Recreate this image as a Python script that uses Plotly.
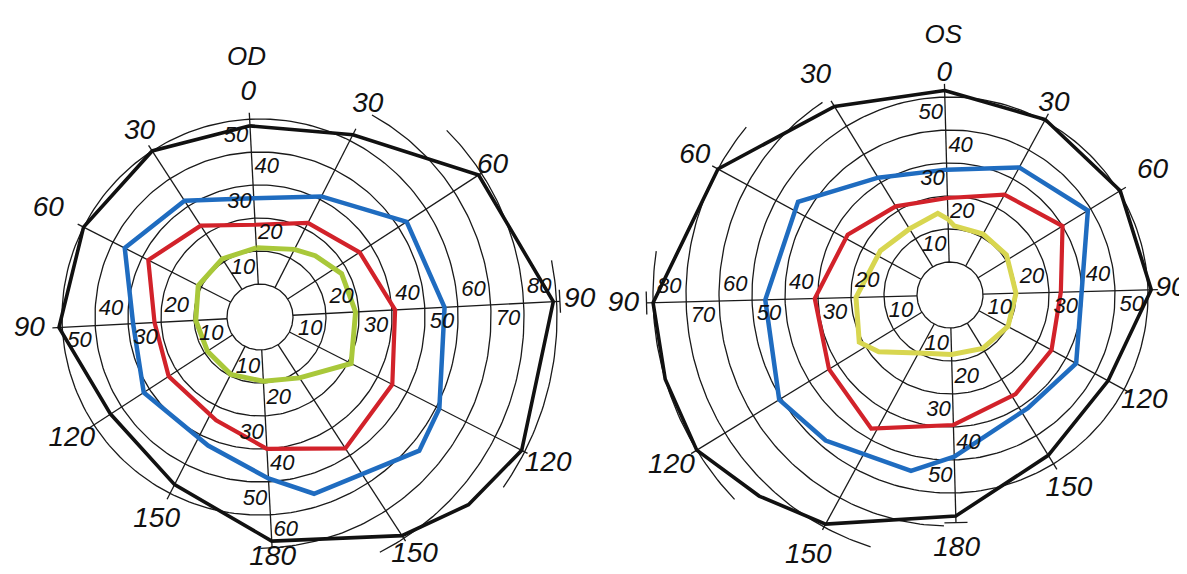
import numpy as np
import plotly.graph_objects as go

# ---------------- data (degrees of visual field) ----------------
MERIDIANS = [0, 30, 60, 90, 120, 150, 180, 210, 240, 270, 300, 330]
MERIDIAN_TEXT = ["0", "30", "60", "90", "120", "150", "180", "150", "120", "90", "60", "30"]
RINGS = [10, 20, 30, 40, 50, 60]
OUTER_RINGS = [70, 80, 90]

# ring labels written along the four main meridians
OD_UP_LABELS = [10, 20, 30, 40, 50]
OD_RIGHT_LABELS = [10, 20, 30, 40, 50, 60, 70, 80]
OD_DOWN_LABELS = [10, 20, 30, 40, 50, 60]
OD_LEFT_LABELS = [10, 20, 30, 40, 50]
OS_UP_LABELS = [10, 20, 30, 40, 50]
OS_RIGHT_LABELS = [10, 20, 30, 40, 50]
OS_DOWN_LABELS = [10, 20, 30, 40, 50]
OS_LEFT_LABELS = [10, 20, 30, 40, 50, 60, 70, 80]

# OD isopters (meridian angle clockwise from top, eccentricity in degrees)
OD_BLACK_ANG = [0, 30, 60, 90, 120, 135, 150, 180, 210, 240, 270, 300, 330]
OD_BLACK = [58, 62, 79, 89, 89, 85, 79, 68, 57, 54, 61, 60, 60]
OD_BLUE_ANG = [0, 30, 60, 90, 120, 133, 166, 180, 205, 240, 270, 300, 330]
OD_BLUE = [36, 41, 53, 56, 61, 63, 56, 49, 42, 42, 38.5, 46, 42]
OD_RED_ANG = [0, 30, 60, 90, 120, 150, 180, 206, 240, 270, 300, 330]
OD_RED = [28, 32, 36, 41, 45, 47.5, 40, 34, 33, 32, 38, 33]
OD_GREEN_ANG = [0, 30, 45, 65, 90, 120, 150, 180, 210, 240, 270, 300, 330]
OD_GREEN = [21, 23, 25, 28, 29, 31, 22, 19.5, 19.5, 19, 19.5, 21, 21]

# OS isopters
OS_BLACK_ANG = [0, 30, 60, 90, 120, 150, 180, 210, 225, 240, 255, 270, 300, 330]
OS_BLACK = [62, 60.5, 60.5, 61, 54.5, 57, 67, 79, 84, 90, 90, 90, 80, 67]
OS_BLUE_ANG = [0, 30, 60, 90, 120, 147, 180, 194, 222, 240, 270, 303, 330]
OS_BLUE = [38, 44, 49, 40, 43.5, 41.6, 49, 54.6, 58, 60.7, 56, 54, 41.7]
OS_RED_ANG = [0, 30, 60, 90, 120, 148, 180, 212, 240, 270, 302, 330]
OS_RED = [29.4, 34.6, 40, 33.6, 35, 36, 39.4, 47, 43, 41, 36, 31.5]
OS_YELLOW_ANG = [0, 5, 30, 56, 90, 120, 150, 180, 210, 233, 244, 270, 304, 330, 353]
OS_YELLOW = [23, 21, 21, 21, 20, 20, 19, 18, 20, 27.6, 31, 28.5, 25, 23.5, 25]

# ---------------- style / layout ----------------
FONT = "Liberation Sans, Arial, sans-serif"
GRID_COLOR = "#1a1a1a"
COL_BLACK = "#111111"
COL_BLUE = "#1f6cc0"
COL_RED = "#d2222a"
COL_GREEN_OD = "#a9c83a"
COL_YELLOW_OS = "#d8d650"
# radius (in degrees) at which the meridian names are written
OD_LABEL_R = [68, 72, 84, 97, 98, 86, 73, 69, 68, 70, 72, 67]
OS_LABEL_R = [67, 66, 72, 67, 67, 69, 77, 90, 99, 99, 88, 78]


def xy(theta, r, rot):
    t = np.radians(np.asarray(theta, dtype=float) - rot)
    r = np.asarray(r, dtype=float)
    return r * np.sin(t), r * np.cos(t)


def add_chart(fig, xa, ya, rot, black, isopters, spans, labels, label_r, title, temporal_tick):
    gx, gy = [], []

    def seg(xs, ys):
        gx.extend(list(xs) + [None])
        gy.extend(list(ys) + [None])

    for r in RINGS:
        a = np.linspace(0, 360, 241)
        seg(*xy(a, np.full_like(a, r), rot))
    for r, (a0, a1) in zip(OUTER_RINGS, spans):
        a = np.linspace(a0, a1, int(a1 - a0) + 2)
        seg(*xy(a, np.full_like(a, r), rot))
    bang, bval = black
    ends = {}
    for m in MERIDIANS:
        e = max(np.interp(m, bang, bval, period=360), 60) + 2
        ends[m] = e
        seg(*xy([m, m], [10, e], rot))
    for m in (180, temporal_tick):
        e = ends[m]
        px, py = xy(m, e, rot)
        tx, ty = np.cos(np.radians(m - rot)), -np.sin(np.radians(m - rot))
        seg([px - 3.5 * tx, px + 3.5 * tx], [py - 3.5 * ty, py + 3.5 * ty])

    fig.add_trace(go.Scatter(x=gx, y=gy, mode="lines", xaxis=xa, yaxis=ya,
                             line=dict(color=GRID_COLOR, width=1.3), hoverinfo="skip"))

    for ang, val, col, w in isopters:
        a = list(ang) + [ang[0] + 360]
        v = list(val) + [val[0]]
        px, py = xy(a, v, rot)
        fig.add_trace(go.Scatter(x=px, y=py, mode="lines", xaxis=xa, yaxis=ya,
                                 line=dict(color=col, width=w), hoverinfo="skip"))

    # ring labels
    tx_, ty_, tt_ = [], [], []
    sign_odd = {0: -1, 90: 1, 180: 1, 270: -1}
    for m, vals in labels.items():
        for k in vals:
            bx, by = xy(m, k + 5, rot)
            s = sign_odd[m] if (k // 10) % 2 == 1 else -sign_odd[m]
            tdx, tdy = np.cos(np.radians(m - rot)), -np.sin(np.radians(m - rot))
            tx_.append(float(bx + s * 4.4 * tdx))
            ty_.append(float(by + s * 4.6 * tdy))
            tt_.append(str(k))
    fig.add_trace(go.Scatter(x=tx_, y=ty_, text=tt_, mode="text", xaxis=xa, yaxis=ya,
                             textfont=dict(family=FONT, size=22, color="#111", style="italic"),
                             hoverinfo="skip", cliponaxis=False))

    # meridian labels
    mx, my = [], []
    for m, r in zip(MERIDIANS, label_r):
        x0, y0 = xy(m, r, rot)
        mx.append(float(x0))
        my.append(float(y0))
    fig.add_trace(go.Scatter(x=mx, y=my, text=MERIDIAN_TEXT, mode="text", xaxis=xa, yaxis=ya,
                             textfont=dict(family=FONT, size=28, color="#111", style="italic"),
                             hoverinfo="skip", cliponaxis=False))
    ox, oy = xy(0, 78.5, rot)
    fig.add_trace(go.Scatter(x=[float(ox)], y=[float(oy)], text=[title], mode="text",
                             xaxis=xa, yaxis=ya,
                             textfont=dict(family=FONT, size=26, color="#111", style="italic"),
                             hoverinfo="skip", cliponaxis=False))


fig = go.Figure()

add_chart(fig, "x", "y", 3.0, (OD_BLACK_ANG, OD_BLACK),
          [(OD_BLACK_ANG, OD_BLACK, COL_BLACK, 3.6),
           (OD_BLUE_ANG, OD_BLUE, COL_BLUE, 4.5),
           (OD_RED_ANG, OD_RED, COL_RED, 4.2),
           (OD_GREEN_ANG, OD_GREEN, COL_GREEN_OD, 5)],
          [(32, 178), (48, 156), (82, 128)],
          {0: OD_UP_LABELS, 90: OD_RIGHT_LABELS, 180: OD_DOWN_LABELS, 270: OD_LEFT_LABELS},
          OD_LABEL_R, "OD", 90)

add_chart(fig, "x2", "y2", 1.5, (OS_BLACK_ANG, OS_BLACK),
          [(OS_BLACK_ANG, OS_BLACK, COL_BLACK, 3.6),
           (OS_BLUE_ANG, OS_BLUE, COL_BLUE, 4.5),
           (OS_RED_ANG, OS_RED, COL_RED, 4.2),
           (OS_YELLOW_ANG, OS_YELLOW, COL_YELLOW_OS, 5)],
          [(183, 328), (199, 311), (228, 280)],
          {0: OS_UP_LABELS, 90: OS_RIGHT_LABELS, 180: OS_DOWN_LABELS, 270: OS_LEFT_LABELS},
          OS_LABEL_R, "OS", 270)

S = 3.3  # px per degree
W, H = 1187, 574
c1 = (252, 309)
c2 = (942, 287)
half = W / 2

ax_common = dict(visible=False, showgrid=False, zeroline=False, fixedrange=True)
fig.update_layout(
    width=W, height=H,
    margin=dict(l=0, r=0, t=0, b=0),
    paper_bgcolor="white", plot_bgcolor="white",
    showlegend=False,
    xaxis=dict(domain=[0, 0.5], range=[(0 - c1[0]) / S, (half - c1[0]) / S], **ax_common),
    yaxis=dict(domain=[0, 1], range=[(c1[1] - H) / S, c1[1] / S], **ax_common),
    xaxis2=dict(domain=[0.5, 1], range=[(half - c2[0]) / S, (W - c2[0]) / S], **ax_common),
    yaxis2=dict(domain=[0, 1], range=[(c2[1] - H) / S, c2[1] / S], anchor="x2", **ax_common),
)
fig.write_html("out.html")
